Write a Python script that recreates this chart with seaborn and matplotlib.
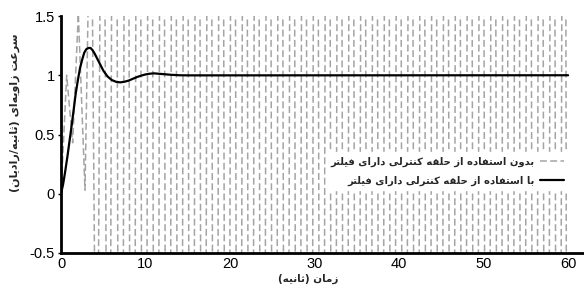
import matplotlib
matplotlib.use('Agg')  # no display
import matplotlib.pyplot as plt
import seaborn as sns
import pandas as pd

# --- data --------------------------------------------------------------
# with the filtered control loop (solid black)
filt_t = [0, 0.25, 0.5, 0.75, 1.0, 1.25, 1.5, 1.75, 2.0, 2.25, 2.5, 2.75,
          3.0, 3.25, 3.5, 3.75, 4.0, 4.5, 5.0, 5.5, 6.0, 6.5, 7.0, 7.5,
          8.0, 8.5, 9.0, 9.5, 10.0, 10.5, 11.0, 11.5, 12.0, 13.0, 14.0,
          15.0, 60.0]
filt_v = [0, 0.08, 0.19, 0.31, 0.44, 0.57, 0.71, 0.85, 0.96, 1.06, 1.13,
          1.19, 1.22, 1.23, 1.23, 1.21, 1.18, 1.11, 1.04, 0.99, 0.96,
          0.945, 0.94, 0.945, 0.955, 0.97, 0.985, 0.997, 1.007, 1.013,
          1.016, 1.013, 1.01, 1.004, 1.0, 0.999, 1.0]

# without the filtered control loop (grey dashed, turning points)
raw_t = [0, 0.67, 1.38, 2.05, 2.84,
         3.55, 4.25, 4.95, 5.65, 6.35, 7.05, 7.75, 8.45, 9.15, 9.85,
         10.55, 11.25, 11.95, 12.65, 13.35, 14.05, 14.75, 15.45, 16.15, 16.85,
         17.55, 18.25, 18.95, 19.65, 20.35, 21.05, 21.75, 22.45, 23.15, 23.85,
         24.55, 25.25, 25.95, 26.65, 27.35, 28.05, 28.75, 29.45, 30.15, 30.85,
         31.55, 32.25, 32.95, 33.65, 34.35, 35.05, 35.75, 36.45, 37.15, 37.85,
         38.55, 39.25, 39.95, 40.65, 41.35, 42.05, 42.75, 43.45, 44.15, 44.85,
         45.55, 46.25, 46.95, 47.65, 48.35, 49.05, 49.75, 50.45, 51.15, 51.85,
         52.55, 53.25, 53.95, 54.65, 55.35, 56.05, 56.75, 57.45, 58.15, 58.85,
         59.55, 60.0]
raw_v = [0, 1.0, 0.43, 1.52, 0.03,
         3, -3, 6, -6, 10, -10, 10, -10, 10, -10,
         10, -10, 10, -10, 10, -10, 10, -10, 10, -10,
         10, -10, 10, -10, 10, -10, 10, -10, 10, -10,
         10, -10, 10, -10, 10, -10, 10, -10, 10, -10,
         10, -10, 10, -10, 10, -10, 10, -10, 10, -10,
         10, -10, 10, -10, 10, -10, 10, -10, 10, -10,
         10, -10, 10, -10, 10, -10, 10, -10, 10, -10,
         10, -10, 10, -10, 10, -10, 10, -10, 10, -10,
         10, -10]

xticks = [0, 10, 20, 30, 40, 50, 60]
yticks = [-0.5, 0, 0.5, 1, 1.5]
ytick_labels = ['-0.5', '0', '0.5', '1', '1.5']

ylabel_txt = 'سرعت زاویه‌ای (ثانیه/رادیان)'
xlabel_txt = 'زمان (ثانیه)'
raw_label = 'بدون استفاده از حلقه کنترلی دارای فیلتر'
filt_label = 'با استفاده از حلقه کنترلی دارای فیلتر'

# --- minimal Persian shaping (matplotlib has no text shaping) ------------
# isolated, final, initial, medial
FORMS = {
    '\u0627': ('\uFE8D', '\uFE8E', None, None),
    '\u0628': ('\uFE8F', '\uFE90', '\uFE91', '\uFE92'),
    '\u062A': ('\uFE95', '\uFE96', '\uFE97', '\uFE98'),
    '\u062B': ('\uFE99', '\uFE9A', '\uFE9B', '\uFE9C'),
    '\u062D': ('\uFEA1', '\uFEA2', '\uFEA3', '\uFEA4'),
    '\u062F': ('\uFEA9', '\uFEAA', None, None),
    '\u0631': ('\uFEAD', '\uFEAE', None, None),
    '\u0632': ('\uFEAF', '\uFEB0', None, None),
    '\u0633': ('\uFEB1', '\uFEB2', '\uFEB3', '\uFEB4'),
    '\u0639': ('\uFEC9', '\uFECA', '\uFECB', '\uFECC'),
    '\u0641': ('\uFED1', '\uFED2', '\uFED3', '\uFED4'),
    '\u0642': ('\uFED5', '\uFED6', '\uFED7', '\uFED8'),
    '\u06A9': ('\uFB8E', '\uFB8F', '\uFB90', '\uFB91'),
    '\u0644': ('\uFEDD', '\uFEDE', '\uFEDF', '\uFEE0'),
    '\u0645': ('\uFEE1', '\uFEE2', '\uFEE3', '\uFEE4'),
    '\u0646': ('\uFEE5', '\uFEE6', '\uFEE7', '\uFEE8'),
    '\u0647': ('\uFEE9', '\uFEEA', '\uFEEB', '\uFEEC'),
    '\u0648': ('\uFEED', '\uFEEE', None, None),
    '\u06CC': ('\uFBFC', '\uFBFD', '\uFBFE', '\uFBFF'),
}
MIRROR = {'(': ')', ')': '('}


def shape_fa(text):
    text = text.replace('\u064A', '\u06CC').replace('\u0643', '\u06A9')
    out = []
    for i, ch in enumerate(text):
        if ch not in FORMS:
            if ch != '\u200C':
                out.append(MIRROR.get(ch, ch))
            continue
        prev = text[i - 1] if i > 0 else ''
        nxt = text[i + 1] if i + 1 < len(text) else ''
        join_prev = prev in FORMS and FORMS[prev][2] is not None
        join_next = FORMS[ch][2] is not None and nxt in FORMS
        iso, fin, ini, med = FORMS[ch]
        if join_prev and join_next:
            out.append(med)
        elif join_prev:
            out.append(fin)
        elif join_next:
            out.append(ini)
        else:
            out.append(iso)
    return ''.join(reversed(out))


# --- plot ---------------------------------------------------------------
sns.set_style('white')
plt.rcParams['font.family'] = ['Liberation Sans', 'DejaVu Sans']
fa_font = dict(family=['DejaVu Sans'], weight='bold')

fig = plt.figure(figsize=(5.84, 2.86), dpi=100)
ax = fig.add_axes([61 / 584, 1 - 253 / 286, 524 / 584, 237 / 286])

raw_df = pd.DataFrame({'t': raw_t, 'v': raw_v})
filt_df = pd.DataFrame({'t': filt_t, 'v': filt_v})

sns.lineplot(data=raw_df, x='t', y='v', ax=ax, color='#a4a4a4',
             linewidth=1.1, linestyle=(0, (4.5, 2.2)), sort=False,
             label=shape_fa(raw_label))
sns.lineplot(data=filt_df, x='t', y='v', ax=ax, color='black',
             linewidth=1.6, sort=False, label=shape_fa(filt_label))

ax.set_xlim(0, 62)
ax.set_ylim(-0.5, 1.5)
ax.set_xticks(xticks)
ax.set_xticklabels([str(x) for x in xticks])
ax.set_yticks(yticks)
ax.set_yticklabels(ytick_labels)
ax.tick_params(axis='both', labelsize=10.5, colors='black')
ax.tick_params(axis='y', length=2.5, width=1, pad=2, left=True)
ax.tick_params(axis='x', length=0, pad=3)

for side in ['top', 'right']:
    ax.spines[side].set_visible(False)
for side in ['left', 'bottom']:
    ax.spines[side].set_linewidth(2)
    ax.spines[side].set_color('black')

ax.set_xlabel(shape_fa(xlabel_txt), fontsize=7.5, **fa_font)
ax.xaxis.set_label_coords(0.471, -0.088)
ax.set_ylabel(shape_fa(ylabel_txt), fontsize=8, **fa_font)
ax.yaxis.set_label_coords(-0.078, 0.59)

leg = ax.legend(loc='upper right', bbox_to_anchor=(0.968, 0.425),
                markerfirst=False, frameon=True, fancybox=False,
                prop=dict(family=['DejaVu Sans'], weight='bold', size=7.2),
                handlelength=2.4, handletextpad=0.5, borderpad=0.45,
                labelspacing=0.85, borderaxespad=0)
leg.get_frame().set_facecolor('white')
leg.get_frame().set_edgecolor('white')
leg.get_frame().set_alpha(1)

plt.savefig('out.png', dpi=100)
plt.close()
